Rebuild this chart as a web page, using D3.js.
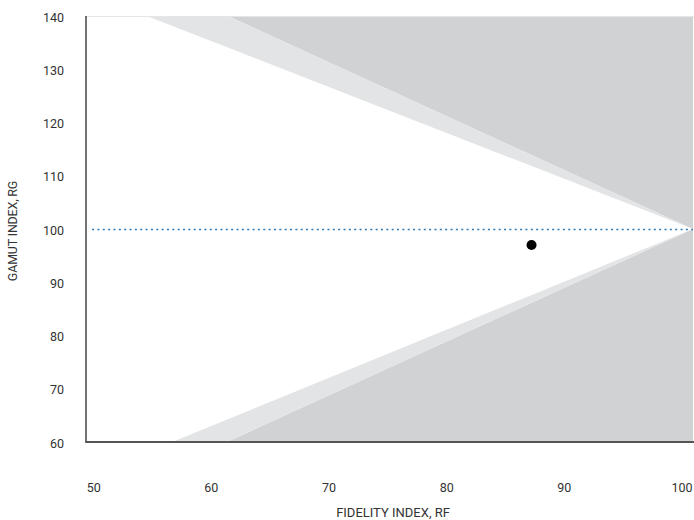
<!DOCTYPE html>
<html>
<head>
<meta charset="utf-8">
<script src="https://cdn.jsdelivr.net/npm/d3@7"></script>
<style>
  html, body { margin: 0; padding: 0; background: #fff; }
  svg { display: block; }
  text { font-family: Roboto, "Liberation Sans", sans-serif; fill: #333; }
</style>
</head>
<body>
<script>
// ---- data ----
const xTicks = [50, 60, 70, 80, 90, 100];
const yTicks = [60, 70, 80, 90, 100, 110, 120, 130, 140];
const xDomain = [50, 100];
const yDomain = [60, 140];
// gray "infeasible" regions (Rf, Rg)
const upperDark  = [[61.7, 140], [100, 100], [100, 140]];
const upperLight = [[55.0, 140], [100, 100], [61.7, 140]];
const lowerLight = [[57.1, 60], [100, 100], [61.6, 60]];
const lowerDark  = [[61.6, 60], [100, 100], [100, 60]];
const refLineX = [50.5, 100];
const refLineY = 100;
const samplePoint = { rf: 86.7, rg: 97.0 };
const xTitle = "FIDELITY INDEX, RF";
const yTitle = "GAMUT INDEX, RG";

// ---- layout ----
const W = 694, H = 520;
const mLeft = 86, mRight = 693, mTop = 16, mBottom = 442;

const svg = d3.select("body").append("svg").attr("width", W).attr("height", H);

const x = d3.scaleLinear().domain(xDomain).range([mLeft, mRight]);
const y = d3.scaleLinear().domain(yDomain).range([mBottom, mTop]);
// tick label placement (labels are spread across the axis width)
const xLab = d3.scalePoint().domain(xTicks).range([93.7, 682]);

const poly = d3.line().x(d => x(d[0])).y(d => y(d[1]));

svg.append("path").datum(upperDark).attr("d", d => poly(d) + "Z").attr("fill", "#d1d2d4");
svg.append("path").datum(upperLight).attr("d", d => poly(d) + "Z").attr("fill", "#e3e4e5");
svg.append("path").datum(lowerDark).attr("d", d => poly(d) + "Z").attr("fill", "#d1d2d4");
svg.append("path").datum(lowerLight).attr("d", d => poly(d) + "Z").attr("fill", "#e3e4e5");

// top light border
svg.append("line")
  .attr("x1", x(xDomain[0])).attr("x2", W)
  .attr("y1", y(yDomain[1]) + 0.5).attr("y2", y(yDomain[1]) + 0.5)
  .attr("stroke", "#e6e6e6").attr("stroke-width", 1);

// reference dotted line
svg.append("line")
  .attr("x1", x(refLineX[0])).attr("x2", x(refLineX[1]))
  .attr("y1", y(refLineY) + 0.5).attr("y2", y(refLineY) + 0.5)
  .attr("stroke", "#2a78b6").attr("stroke-width", 1.5)
  .attr("stroke-dasharray", "2 3.35");

// sample point
svg.append("circle")
  .attr("cx", x(samplePoint.rf)).attr("cy", y(samplePoint.rg))
  .attr("r", 5).attr("fill", "#000");

// axes lines
svg.append("line")
  .attr("x1", x(xDomain[0])).attr("x2", x(xDomain[0]))
  .attr("y1", y(yDomain[1])).attr("y2", y(yDomain[0]))
  .attr("stroke", "#444").attr("stroke-width", 1.5);
svg.append("line")
  .attr("x1", x(xDomain[0]) - 0.75).attr("x2", W)
  .attr("y1", y(yDomain[0])).attr("y2", y(yDomain[0]))
  .attr("stroke", "#555").attr("stroke-width", 2);

// y tick labels
svg.append("g").selectAll("text").data(yTicks).join("text")
  .attr("x", 64).attr("y", d => y(d) + 1)
  .attr("text-anchor", "end").attr("dominant-baseline", "central")
  .attr("font-size", 12.5)
  .text(d => d);

// x tick labels
svg.append("g").selectAll("text").data(xTicks).join("text")
  .attr("x", d => xLab(d)).attr("y", 487)
  .attr("text-anchor", "middle").attr("dominant-baseline", "central")
  .attr("font-size", 12.5)
  .text(d => d);

// titles
svg.append("text")
  .attr("x", 393).attr("y", 512)
  .attr("text-anchor", "middle").attr("dominant-baseline", "central")
  .attr("font-size", 13)
  .text(xTitle);
svg.append("text")
  .attr("transform", "translate(12,231) rotate(-90)")
  .attr("text-anchor", "middle").attr("dominant-baseline", "central")
  .attr("font-size", 12.5).attr("letter-spacing", -0.2)
  .text(yTitle);
</script>
</body>
</html>
